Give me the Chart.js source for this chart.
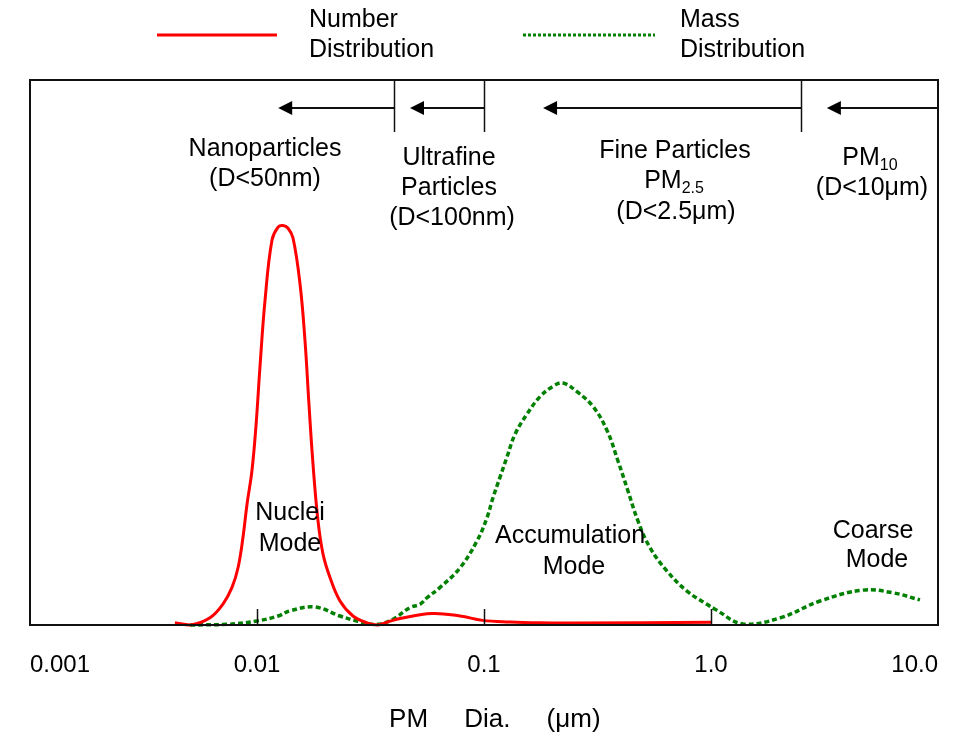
<!DOCTYPE html>
<html>
<head>
<meta charset="utf-8">
<script src="https://cdn.jsdelivr.net/npm/chart.js@4.4.1/dist/chart.umd.min.js"></script>
<style>
  html, body { margin: 0; padding: 0; background: #fff; }
</style>
</head>
<body>
<canvas id="pmChart" width="958" height="736"></canvas>
<script>
// particle diameter (um) and relative amount
const numberDia = [0.00435, 0.00507, 0.00621, 0.00708, 0.00776, 0.00825, 0.00867, 0.00904, 0.0095, 0.0099,
  0.0103, 0.01085, 0.01164, 0.01238, 0.01302, 0.0137, 0.01441, 0.01546, 0.01627, 0.01694,
  0.01765, 0.01857, 0.01954, 0.02097, 0.02321, 0.02648, 0.03053, 0.0341, 0.03854, 0.04266,
  0.059, 0.0784, 0.0985, 0.1302, 0.1765, 0.2466, 1.0];
const numberVal = [0.4, 0, 1.35, 3.85, 6.9, 10.5, 16.0, 22.2, 28.3, 36.6,
  47.2, 59.6, 70.6, 73.0, 73.3, 72.8, 71.0, 62.7, 52.2, 40.5,
  29.5, 19.1, 13.0, 8.7, 4.4, 1.65, 0.4, 0, 0.7, 1.2,
  2.1, 1.65, 0.85, 0.55, 0.4, 0.37, 0.5];

const massDia = [0.00507, 0.00738, 0.01, 0.01238, 0.01398, 0.01801, 0.02321, 0.02757, 0.0336, 0.0397,
  0.0472, 0.05224, 0.0561, 0.06402, 0.0784, 0.0931, 0.1031, 0.1096, 0.1176, 0.1262,
  0.137, 0.1547, 0.1765, 0.2014, 0.2228, 0.2569, 0.302, 0.3483, 0.3893, 0.4307,
  0.4767, 0.5385, 0.6401, 0.7839, 0.9597, 1.042, 1.383, 2.014, 3.02, 4.674,
  6.34, 8.33];
const massVal = [0, 0.12, 0.74, 1.65, 2.6, 3.3, 1.65, 0.74, 0.12, 1.05,
  3.2, 3.8, 5.0, 6.9, 10.5, 15.4, 19.7, 23.4, 27.1, 30.8,
  35.0, 38.7, 41.9, 43.8, 44.4, 42.8, 40.1, 35.7, 30.1, 24.6,
  19.1, 14.2, 9.9, 6.2, 3.8, 2.9, 0.18, 1.3, 4.4, 6.4,
  5.9, 4.6];

const tickValues = [0.001, 0.01, 0.1, 1, 10];
const tickLabels = ['0.001', '0.01', '0.1', '1.0', '10.0'];
const innerTicks = [0.01, 0.1, 1];

// size class boundaries and where each arrow points to
const sizeBounds = [0.04, 0.1, 2.5, 10];
const arrowTips = [0.0124, 0.0472, 0.182, 3.24];

const FONT = '"Liberation Sans", Arial, Helvetica, sans-serif';

function toPoints(xs, ys) {
  return xs.map((v, i) => ({ x: v, y: ys[i] }));
}

const overlay = {
  id: 'pmOverlay',
  afterDatasetsDraw(chart) {
    const { ctx, chartArea: a, scales: { x } } = chart;
    const line = (x1, y1, x2, y2) => {
      ctx.beginPath(); ctx.moveTo(x1, y1); ctx.lineTo(x2, y2); ctx.stroke();
    };
    ctx.save();
    ctx.strokeStyle = '#111';
    ctx.fillStyle = '#000';

    // plot frame
    ctx.lineWidth = 2;
    ctx.strokeRect(a.left, a.top, a.right - a.left, a.bottom - a.top);

    // short ticks standing on the axis
    ctx.lineWidth = 1.5;
    innerTicks.forEach(v => {
      const px = Math.round(x.getPixelForValue(v)) + 0.5;
      line(px, a.bottom, px, a.bottom - 16);
    });

    // size class markers with arrows
    const arrowY = a.top + 28;
    sizeBounds.forEach((v, i) => {
      const px = Math.round(x.getPixelForValue(v)) + 0.5;
      if (i < sizeBounds.length - 1) line(px, a.top, px, a.top + 52);
      const tip = x.getPixelForValue(arrowTips[i]);
      ctx.lineWidth = 2;
      line(px, arrowY, tip + 12, arrowY);
      ctx.beginPath();
      ctx.moveTo(tip, arrowY);
      ctx.lineTo(tip + 14, arrowY - 7);
      ctx.lineTo(tip + 14, arrowY + 7);
      ctx.closePath();
      ctx.fill();
      ctx.lineWidth = 1.5;
    });

    // text annotations
    const big = '25px ' + FONT, small = '16px ' + FONT;
    ctx.textAlign = 'center';
    ctx.textBaseline = 'middle';
    ctx.font = big;
    const text = (t, cx, cy) => ctx.fillText(t, cx, cy);
    const withSub = (main, sub, cx, cy) => {
      ctx.font = big;
      const w1 = ctx.measureText(main).width;
      ctx.font = small;
      const w2 = ctx.measureText(sub).width;
      const start = cx - (w1 + w2) / 2;
      ctx.textAlign = 'left';
      ctx.font = big;
      ctx.fillText(main, start, cy);
      ctx.font = small;
      ctx.fillText(sub, start + w1, cy + 8);
      ctx.textAlign = 'center';
      ctx.font = big;
    };

    text('Nanoparticles', 265, 149);
    text('(D<50nm)', 265, 179);
    text('Ultrafine', 449, 158);
    text('Particles', 449, 188);
    text('(D<100nm)', 452, 218);
    text('Fine Particles', 675, 151);
    withSub('PM', '2.5', 674, 181);
    text('(D<2.5\u03BCm)', 676, 212);
    withSub('PM', '10', 870, 158);
    text('(D<10\u03BCm)', 872, 188);
    text('Nuclei', 290, 513);
    text('Mode', 290, 544);
    text('Accumulation', 570, 536);
    text('Mode', 574, 567);
    text('Coarse', 873, 531);
    text('Mode', 877, 560);

    // legend
    const ds = chart.data.datasets;
    ctx.lineWidth = 3;
    ctx.strokeStyle = ds[0].borderColor;
    line(157, 35, 277, 35);
    ctx.strokeStyle = ds[1].borderColor;
    ctx.setLineDash([3, 2]);
    line(523, 35, 655, 35);
    ctx.setLineDash([]);
    ctx.textAlign = 'left';
    ctx.fillStyle = '#000';
    text('Number', 309, 20);
    text('Distribution', 309, 50);
    text('Mass', 680, 20);
    text('Distribution', 680, 50);
    ctx.restore();
  }
};

new Chart(document.getElementById('pmChart'), {
  type: 'line',
  data: {
    datasets: [
      {
        label: 'Number Distribution',
        data: toPoints(numberDia, numberVal),
        borderColor: '#ff0000',
        borderWidth: 3,
        pointRadius: 0,
        tension: 0.4,
        clip: false
      },
      {
        label: 'Mass Distribution',
        data: toPoints(massDia, massVal),
        borderColor: '#008000',
        borderWidth: 3.5,
        borderDash: [5, 3],
        pointRadius: 0,
        tension: 0.4,
        clip: false
      }
    ]
  },
  options: {
    responsive: false,
    animation: false,
    layout: { padding: { left: 30, right: 20, top: 80, bottom: 1 } },
    plugins: { legend: { display: false }, tooltip: { enabled: false } },
    scales: {
      x: {
        type: 'logarithmic',
        min: 0.001,
        max: 10,
        afterBuildTicks: scale => { scale.ticks = tickValues.map(v => ({ value: v })); },
        afterFit: scale => { scale.paddingLeft = 0; scale.paddingRight = 0; },
        grid: { display: false, drawTicks: false },
        border: { display: false },
        ticks: {
          autoSkip: false,
          maxRotation: 0,
          align: 'inner',
          padding: 26,
          color: '#000',
          font: { family: FONT, size: 24 },
          callback: (v, i) => tickLabels[i]
        },
        title: {
          display: true,
          text: '   PM     Dia.     (\u03BCm)',
          color: '#000',
          font: { family: FONT, size: 26 },
          padding: { top: -2, bottom: 0 }
        }
      },
      y: {
        display: false,
        min: 0,
        max: 100
      }
    }
  },
  plugins: [overlay]
});
</script>
</body>
</html>
